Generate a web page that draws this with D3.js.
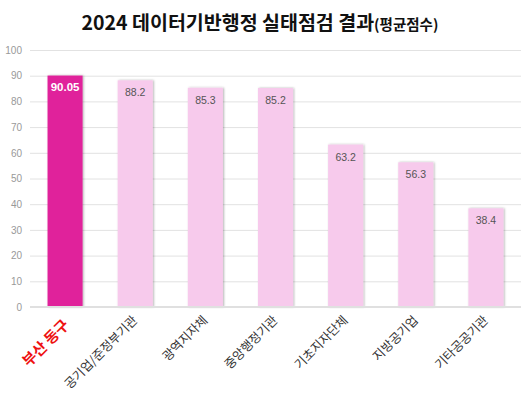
<!DOCTYPE html>
<html>
<head>
<meta charset="utf-8">
<script src="https://cdn.jsdelivr.net/npm/d3@7"></script>
<style>
  body { margin: 0; background: #fff; }
  text { font-family: "Noto Sans CJK KR", "Noto Sans", sans-serif; }
</style>
</head>
<body>
<svg id="mainFrame"></svg>
<script>
const categories = ['부산 동구', '공기업/준정부기관', '광역지자체', '중앙행정기관', '기초지자단체', '지방공기업', '기타공공기관']
const scores = [90.05, 88.2, 85.3, 85.2, 63.2, 56.3, 38.4]
const yTicks = [0, 10, 20, 30, 40, 50, 60, 70, 80, 90, 100]

const width = 532
const height = 398
const margin = { top: 50, right: 11, bottom: 91, left: 30 }
const ourWidth = width - margin.left - margin.right
const ourHeight = height - margin.top - margin.bottom

const svg = d3.select('#mainFrame')
    .attr('width', width)
    .attr('height', height)

const defs = svg.append('defs')
const shadow = defs.append('filter').attr('id', 'shadow')
    .attr('x', '-20%').attr('y', '-5%').attr('width', '150%').attr('height', '110%')
shadow.append('feDropShadow')
    .attr('dx', 1).attr('dy', 0).attr('stdDeviation', 1.2)
    .attr('flood-color', '#000').attr('flood-opacity', 0.3)

// title
const title = svg.append('text')
    .attr('x', 260)
    .attr('y', 30)
    .attr('text-anchor', 'middle')
    .attr('fill', '#111')
    .style('font-weight', 'bold')
title.append('tspan').attr('font-size', 19.5).text('2024 데이터기반행정 실태점검 결과')
title.append('tspan').attr('font-size', 14.5).text('(평균점수)')

const g = svg.append('g')
    .attr('transform', `translate(${margin.left},${margin.top})`)

const yScale = d3.scaleLinear()
    .domain([0, 100])
    .range([ourHeight, 0])

const xScale = d3.scaleBand()
    .domain(categories)
    .range([0, ourWidth])
    .paddingInner(0.5)
    .paddingOuter(0.25)

// y axis with gridlines
const yAxis = d3.axisLeft(yScale)
    .tickValues(yTicks)
    .tickSize(-ourWidth)
    .tickPadding(8)

g.append('g').call(yAxis)
    .call(a => a.select('.domain').remove())
    .call(a => a.selectAll('line').attr('stroke', '#e2e2e2'))
    .call(a => a.selectAll('text')
        .attr('fill', '#999')
        .attr('font-size', 10)
        .attr('x', -8)
        .style('font-family', 'Arial, "Liberation Sans", sans-serif'))

// bars
g.selectAll('rect.bar').data(scores)
    .join('rect')
    .attr('class', 'bar')
    .attr('x', (d, i) => xScale(categories[i]))
    .attr('y', d => yScale(d))
    .attr('width', xScale.bandwidth())
    .attr('height', d => ourHeight - yScale(d))
    .attr('fill', (d, i) => i === 0 ? '#e0239b' : '#f7caec')
    .attr('filter', 'url(#shadow)')

// baseline
g.append('line')
    .attr('x1', 0).attr('x2', ourWidth)
    .attr('y1', ourHeight).attr('y2', ourHeight)
    .attr('stroke', '#e0e0e0')
    .attr('stroke-width', 2)

// value labels
g.selectAll('text.val').data(scores)
    .join('text')
    .attr('class', 'val')
    .attr('x', (d, i) => xScale(categories[i]) + xScale.bandwidth() / 2)
    .attr('y', (d, i) => yScale(d) + (i === 0 ? 15 : 16))
    .attr('text-anchor', 'middle')
    .attr('font-size', (d, i) => i === 0 ? 11.5 : 10.5)
    .attr('fill', (d, i) => i === 0 ? '#fff' : '#555')
    .style('font-weight', (d, i) => i === 0 ? 'bold' : 'normal')
    .style('font-family', 'Arial, "Liberation Sans", sans-serif')
    .text(d => d)

// x labels, rotated
g.selectAll('text.cat').data(categories)
    .join('text')
    .attr('class', 'cat')
    .attr('text-anchor', 'end')
    .attr('transform', (d, i) => `translate(${xScale(d) + xScale.bandwidth() / 2 + (i === 0 ? 5 : 3)},${ourHeight + (i === 0 ? 19 : 14)}) rotate(-45)`)
    .attr('font-size', (d, i) => i === 0 ? 15 : 12.5)
    .attr('fill', (d, i) => i === 0 ? '#ee1111' : '#333')
    .style('font-weight', (d, i) => i === 0 ? 'bold' : 'normal')
    .text(d => d)
</script>
</body>
</html>
